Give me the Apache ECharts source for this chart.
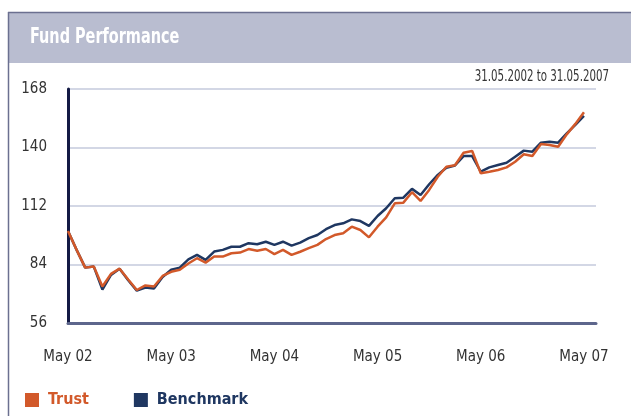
<!DOCTYPE html>
<html>
<head>
<meta charset="utf-8">
<script src="https://cdn.jsdelivr.net/npm/echarts@6/dist/echarts.min.js"></script>
<style>
html,body{margin:0;padding:0;background:#fff;}
#c{width:631px;height:416px;}
</style>
</head>
<body>
<div id="c"></div>
<script>
const titleText = 'Fund Performance';
const periodText = '31.05.2002 to 31.05.2007';
const xTickLabels = ['May 02','May 03','May 04','May 05','May 06','May 07'];
const monthsPerTick = 12;
const yTicks = [56, 84, 112, 140, 168];
const trust = [100,91,82.5,83,73.5,79.5,82,76.8,71.8,74,73.5,78.5,80.5,81.5,84.5,87,84.9,87.8,87.8,89.4,89.7,91.4,90.6,91.4,89,91,88.6,90.1,91.8,93.4,96.2,98.1,99,102.1,100.5,97,102.1,106.6,113.3,113.6,118.6,114.4,119.7,126,130.8,131.5,137.5,138.3,127.7,128.4,129.2,130.5,133.2,136.8,135.9,141.7,141.2,140.4,146.3,151.3,156.9];
const benchmark = [100,91,82.5,83,72,79,82,76.5,71.5,73,72.5,78,81.5,82.5,86.5,88.6,86.2,90.2,91,92.5,92.5,94.2,93.7,94.9,93.4,94.9,93,94.5,96.6,98.1,100.9,102.9,103.7,105.6,104.8,102.5,107.2,110.9,115.7,116,120.2,117.3,122.4,126.9,130.3,131.4,135.9,135.9,128.4,130.5,131.6,132.7,135.6,138.5,138,142.3,142.8,142.3,146.8,150.8,155.1];

const FONT = "'DejaVu Sans Condensed', 'DejaVu Sans', sans-serif";
const ORANGE = '#d2592a';
const NAVY = '#1f3761';

const chart = echarts.init(document.getElementById('c'), null, {renderer:'canvas'});
chart.setOption({
  animation:false,
  backgroundColor:'#fff',
  textStyle:{fontFamily:FONT},
  graphic:[
    {type:'rect', shape:{x:9,y:13,width:622,height:50}, style:{fill:'#b9bdd0'}, silent:true},
    {type:'line', shape:{x1:8.5,y1:12,x2:8.5,y2:416}, style:{stroke:'#6b7090',lineWidth:1.5}, silent:true},
    {type:'line', shape:{x1:8,y1:12.5,x2:631,y2:12.5}, style:{stroke:'#6b7090',lineWidth:1.5}, silent:true},
    {type:'text', x:30, y:37, scaleX:0.73, style:{text:titleText, fill:'#fff', font:"bold 22px " + FONT, verticalAlign:'middle'}},
    {type:'text', x:609, y:77, scaleX:0.76, style:{text:periodText, fill:'#333', font:"15px " + FONT, align:'right', verticalAlign:'middle'}}
  ],
  legend:{
    left:25, top:392, padding:0, itemWidth:14, itemHeight:14, itemGap:45, icon:'rect',
    textStyle:{fontFamily:FONT, fontWeight:'bold', fontSize:16, padding:[0,0,0,4]},
    data:[{name:'Trust', textStyle:{color:ORANGE}},{name:'Benchmark', textStyle:{color:NAVY}}]
  },
  grid:{left:68, right:35, top:89, bottom:93, containLabel:false},
  xAxis:{
    type:'value', min:0, max:61.4, interval:monthsPerTick,
    axisLine:{show:true, onZero:false, lineStyle:{color:'#5d668c', width:3}},
    axisTick:{show:false},
    splitLine:{show:false},
    axisLabel:{
      margin:27, color:'#333', fontSize:15, fontFamily:FONT, showMaxLabel:true,
      formatter:function(v){ const k=v/monthsPerTick; return Number.isInteger(k) && xTickLabels[k] ? xTickLabels[k] : ''; }
    }
  },
  yAxis:{
    type:'value', min:yTicks[0], max:yTicks[yTicks.length-1], interval:28,
    axisLine:{show:true, lineStyle:{color:'#141a45', width:3}},
    axisTick:{show:false},
    splitLine:{show:true, lineStyle:{color:'#c5cadc', width:1.5}},
    axisLabel:{margin:21, color:'#333', fontSize:15, fontFamily:FONT}
  },
  series:[
    {name:'Benchmark', type:'line', symbol:'none', color:NAVY, lineStyle:{width:2.5, color:NAVY}, data:benchmark.map((v,i)=>[i,v]), z:2},
    {name:'Trust', type:'line', symbol:'none', color:ORANGE, lineStyle:{width:2.5, color:ORANGE}, data:trust.map((v,i)=>[i,v]), z:3}
  ]
});
</script>
</body>
</html>
